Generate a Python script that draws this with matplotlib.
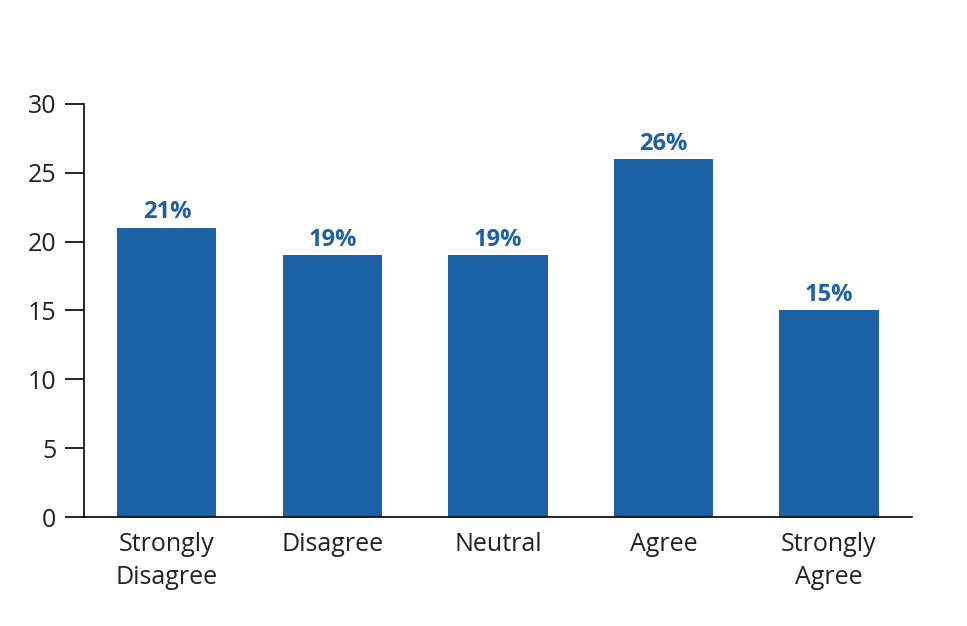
import matplotlib
matplotlib.use('Agg')
import matplotlib.pyplot as plt

categories = ['Strongly\nDisagree', 'Disagree', 'Neutral', 'Agree', 'Strongly\nAgree']
values = [21, 19, 19, 26, 15]
yticks = [0, 5, 10, 15, 20, 25, 30]

bar_color = '#1c60a5'
plt.rcParams['font.family'] = ['Open Sans', 'DejaVu Sans']

fig = plt.figure(figsize=(9.67, 6.26), dpi=100)
ax = fig.add_axes([0.0869, 0.174, 0.856, 0.660])

x = range(len(categories))
bars = ax.bar(x, values, width=0.6, color=bar_color)

for bar, val in zip(bars, values):
    ax.text(bar.get_x() + bar.get_width() / 2, val + 0.25, f'{val}%',
            ha='center', va='bottom', fontsize=17, fontweight='bold', color=bar_color)

ax.set_xlim(-0.5, len(categories) - 0.5)
ax.set_ylim(0, 30)
ax.set_yticks(yticks)
ax.set_xticks(list(x))
ax.set_xticklabels(categories, fontsize=18, color='#222222', linespacing=1.4)
ax.tick_params(axis='y', labelsize=18, labelcolor='#222222', length=14, width=1.2, pad=6)
ax.tick_params(axis='x', length=0, pad=11)

for s in ['top', 'right']:
    ax.spines[s].set_visible(False)
for s in ['left', 'bottom']:
    ax.spines[s].set_linewidth(1.2)

fig.savefig('out.png', dpi=100, facecolor='white')
